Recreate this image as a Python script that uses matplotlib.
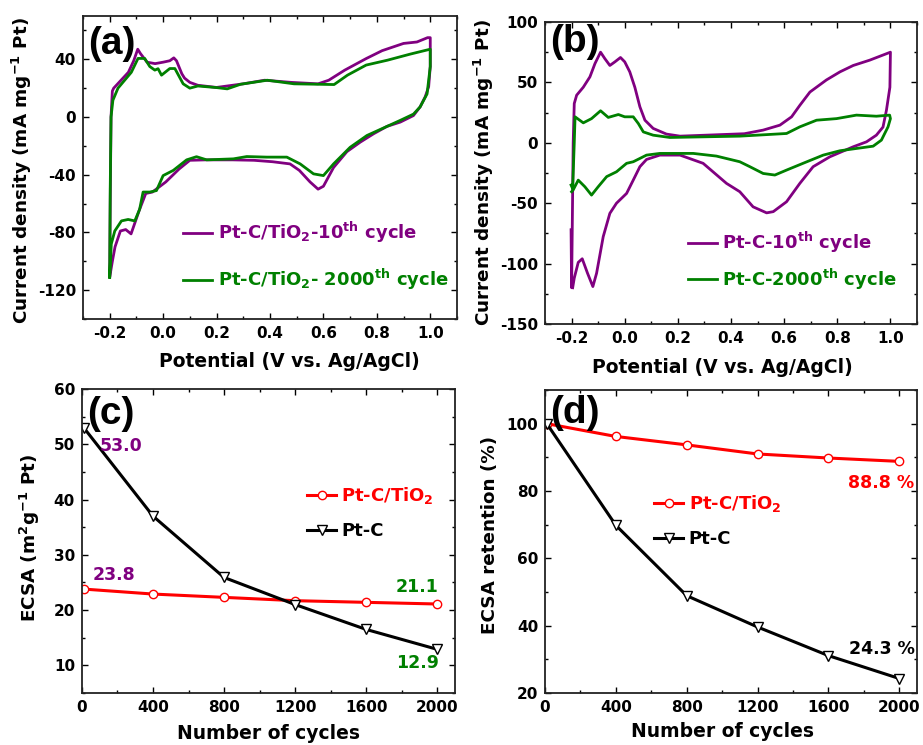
import matplotlib
matplotlib.use("Agg")
import matplotlib.pyplot as plt
from matplotlib.ticker import MultipleLocator

plt.rcParams['font.family'] = ['DejaVu Sans']
plt.rcParams['font.weight'] = 'bold'
plt.rcParams['axes.labelweight'] = 'bold'
plt.rcParams['axes.unicode_minus'] = False
plt.rcParams['mathtext.fontset'] = 'custom'
plt.rcParams['mathtext.rm'] = 'DejaVu Sans:bold'
plt.rcParams['mathtext.it'] = 'DejaVu Sans:bold'
plt.rcParams['mathtext.bf'] = 'DejaVu Sans:bold'

PURPLE = '#800080'
GREEN = '#008000'

# ---- (a) Pt-C/TiO2 CV, 10th cycle (anodic then cathodic) ----
a10_v = [-0.200, -0.198, -0.195, -0.190, -0.185, -0.160, -0.130, -0.110, -0.095, -0.085,
         -0.060, -0.030, 0.000, 0.025, 0.040, 0.050, 0.070, 0.080, 0.100, 0.130,
         0.200, 0.300, 0.380, 0.480, 0.580, 0.620, 0.680, 0.760, 0.820, 0.900,
         0.950, 0.990, 1.000,
         1.000, 0.994, 0.981, 0.962, 0.937, 0.888, 0.838, 0.788, 0.738, 0.688,
         0.638, 0.600, 0.580, 0.550, 0.510, 0.475, 0.410, 0.340, 0.260, 0.160,
         0.100, 0.060, 0.010, -0.040, -0.065, -0.090, -0.120, -0.140, -0.160, -0.180,
         -0.190, -0.200]
a10_j = [-110, -60, 0, 18, 20, 25, 31, 39, 47, 44,
         38, 37, 38, 39, 41, 39, 30, 27, 24, 22,
         20.5, 23, 25.5, 24, 23, 25.5, 32.5, 40.5, 46, 51,
         52, 55, 55,
         35, 21, 14, 7, 1, -3.5, -6.5, -11.6, -17.4, -24,
         -35, -48, -50, -45, -37, -32.5, -31, -30, -29.7, -29.7,
         -30, -36, -45, -52, -53, -65, -81, -78, -79, -90,
         -100, -111]

# ---- (a) Pt-C/TiO2 CV, 2000th cycle ----
a2000_v = [-0.200, -0.198, -0.195, -0.188, -0.169, -0.144, -0.119, -0.094, -0.069, -0.050,
           -0.031, -0.019, -0.006, 0.025, 0.044, 0.075, 0.100, 0.130, 0.200, 0.240,
           0.290, 0.390, 0.490, 0.640, 0.690, 0.760, 0.840, 0.925, 1.000,
           1.000, 0.988, 0.962, 0.937, 0.888, 0.838, 0.763, 0.700, 0.638, 0.600,
           0.563, 0.513, 0.463, 0.388, 0.313, 0.263, 0.163, 0.125, 0.088, 0.038,
           0.000, -0.025, -0.050, -0.075, -0.088, -0.106, -0.131, -0.156, -0.181, -0.194,
           -0.200]
a2000_j = [-111, -50, 0, 11.6, 20, 25.5, 31, 40.6, 40.6, 35,
           32.5, 33.5, 29, 33.6, 33.6, 23, 20, 21.5, 20.4, 19.5,
           22.7, 25.5, 23, 22.5, 29, 36, 39.4, 43.6, 47,
           35, 16, 7, 2, -2.3, -6.5, -12.8, -21, -32.5, -40.6,
           -39.4, -32.5, -27.8, -27.8, -27.4, -29, -29.7, -27.5, -29.7, -37,
           -40.6, -51, -52, -52, -64, -72, -71, -72, -79, -88,
           -111]

# ---- (b) Pt-C CV, 10th cycle ----
b10_v = [-0.202, -0.200, -0.197, -0.194, -0.190, -0.181, -0.156, -0.131, -0.112, -0.091,
         -0.075, -0.056, -0.037, -0.016, 0.000, 0.019, 0.038, 0.057, 0.076, 0.107,
         0.157, 0.208, 0.330, 0.450, 0.521, 0.584, 0.628, 0.659, 0.697, 0.759,
         0.810, 0.860, 0.922, 1.000,
         0.998, 0.985, 0.972, 0.947, 0.910, 0.860, 0.772, 0.709, 0.659, 0.609,
         0.559, 0.534, 0.483, 0.433, 0.383, 0.295, 0.208, 0.132, 0.082, 0.057,
         0.032, 0.007, -0.031, -0.056, -0.081, -0.106, -0.120, -0.140, -0.160, -0.175,
         -0.190, -0.196]
b10_j = [-72, -120, -60, 0, 32.5, 39.4, 46, 54.6, 65.6, 75,
         69.7, 64, 67, 70.6, 67, 58.7, 46, 29.8, 18.7, 11.9,
         7.2, 5.5, 6.5, 7.5, 10.5, 14.6, 21.5, 31, 42, 52,
         58.7, 64, 68.4, 75,
         46, 27, 13, 6.3, 0.8, -3.3, -11.6, -19.8, -33.6, -48.8,
         -57, -58, -53, -40.5, -33.6, -17, -10.2, -10.2, -13.8, -19.8,
         -30.9, -41.9, -50, -58.4, -77.7, -108, -119, -108, -96, -99,
         -112, -120]

# ---- (b) Pt-C CV, 2000th cycle ----
b2000_v = [-0.202, -0.196, -0.190, -0.187, -0.156, -0.125, -0.091, -0.062, -0.024, 0.000,
           0.032, 0.051, 0.070, 0.107, 0.170, 0.433, 0.609, 0.659, 0.722, 0.797,
           0.872, 0.947, 0.997, 1.000,
           0.991, 0.966, 0.935, 0.872, 0.810, 0.747, 0.671, 0.609, 0.565, 0.521,
           0.471, 0.433, 0.345, 0.258, 0.132, 0.082, 0.032, 0.007, -0.031, -0.068,
           -0.100, -0.125, -0.150, -0.175, -0.194, -0.200]
b2000_j = [-35, -38, 0, 21.5, 16.5, 20, 26.5, 21, 23.4, 21.5,
           21.5, 16, 9, 6.3, 4.4, 5.5, 7.7, 13.2, 18.7, 20,
           22.9, 22, 22.9, 20,
           13.2, 2.2, -2.8, -4.7, -6.6, -10.2, -17, -22.6, -26.7, -25.4,
           -19.8, -15.7, -11, -8.8, -8.8, -10.2, -15.7, -17, -24, -28,
           -36.4, -43.3, -36.4, -30.9, -39, -40.5]

# ---- (c), (d) ECSA vs cycles ----
cycles = [10, 400, 800, 1200, 1600, 2000]
ecsa_tio2 = [23.8, 22.9, 22.3, 21.7, 21.4, 21.1]
ecsa_ptc = [53.0, 37.0, 25.9, 21.0, 16.5, 12.9]
ret_tio2 = [100, 96.2, 93.7, 91.0, 89.8, 88.8]
ret_ptc = [100, 69.8, 48.9, 39.6, 31.1, 24.3]

TICK_FS = 11
XLAB_FS = 13.5
YLAB_FS = 13.2
LEG_FS = 13
NOTE_FS = 12.5
PANEL_FS = 28
PANEL_FONT = 'Liberation Sans'


def style_axis(ax, xmaj, xmin, ymaj, ymin):
    ax.xaxis.set_major_locator(MultipleLocator(xmaj))
    ax.xaxis.set_minor_locator(MultipleLocator(xmin))
    ax.yaxis.set_major_locator(MultipleLocator(ymaj))
    ax.yaxis.set_minor_locator(MultipleLocator(ymin))
    ax.tick_params(which='both', direction='in', top=True, right=True,
                   labelsize=TICK_FS, width=1.0)
    ax.tick_params(which='major', length=4, pad=5)
    ax.tick_params(which='minor', length=2.5)
    for sp in ax.spines.values():
        sp.set_linewidth(1.3)
        sp.set_color('#222222')


def panel_label(ax, s, y):
    ax.text(0.015, y, s, transform=ax.transAxes, fontsize=PANEL_FS,
            family=PANEL_FONT, va='top', ha='left')


fig = plt.figure(figsize=(9.23, 7.45), dpi=100)
ax_a = fig.add_axes([0.0899, 0.5718, 0.4052, 0.4067])
ax_b = fig.add_axes([0.5905, 0.5651, 0.4030, 0.4054])
ax_c = fig.add_axes([0.0888, 0.0698, 0.4041, 0.4081])
ax_d = fig.add_axes([0.5905, 0.0698, 0.4030, 0.4067])

# (a)
ax_a.plot(a10_v, a10_j, color=PURPLE, lw=2.0, label='Pt-C/TiO$_2$-10$^{th}$ cycle')
ax_a.plot(a2000_v, a2000_j, color=GREEN, lw=2.0, label='Pt-C/TiO$_2$- 2000$^{th}$ cycle')
ax_a.set_xlim(-0.3, 1.1)
ax_a.set_ylim(-140, 70)
style_axis(ax_a, 0.2, 0.1, 40, 20)
ax_a.xaxis.set_major_formatter(plt.FuncFormatter(lambda v, p: f'{v:.1f}'))
ax_a.set_xlabel('Potential (V vs. Ag/AgCl)', fontsize=XLAB_FS)
ax_a.set_ylabel('Current density (mA mg$^{-1}$ Pt)', fontsize=YLAB_FS)
ax_a.xaxis.set_label_coords(0.553, -0.109)
ax_a.yaxis.set_label_coords(-0.131, 0.49)
ax_a.legend(loc='lower left', bbox_to_anchor=(0.225, 0.035), frameon=False,
            fontsize=LEG_FS, handlelength=1.6, handletextpad=0.3, labelspacing=1.2,
            labelcolor='linecolor')
panel_label(ax_a, '(a)', 0.968)

# (b)
ax_b.plot(b10_v, b10_j, color=PURPLE, lw=2.0, label='Pt-C-10$^{th}$ cycle')
ax_b.plot(b2000_v, b2000_j, color=GREEN, lw=2.0, label='Pt-C-2000$^{th}$ cycle')
ax_b.set_xlim(-0.3, 1.1)
ax_b.set_ylim(-150, 100)
style_axis(ax_b, 0.2, 0.1, 50, 25)
ax_b.xaxis.set_major_formatter(plt.FuncFormatter(lambda v, p: f'{v:.1f}'))
ax_b.set_xlabel('Potential (V vs. Ag/AgCl)', fontsize=XLAB_FS)
ax_b.set_ylabel('Current density (mA mg$^{-1}$ Pt)', fontsize=YLAB_FS)
ax_b.xaxis.set_label_coords(0.476, -0.113)
ax_b.yaxis.set_label_coords(-0.132, 0.5)
ax_b.legend(loc='lower left', bbox_to_anchor=(0.34, 0.053), frameon=False,
            fontsize=LEG_FS, handlelength=1.6, handletextpad=0.3, labelspacing=0.62,
            labelcolor='linecolor')
panel_label(ax_b, '(b)', 0.992)

# (c)
ax_c.plot(cycles, ecsa_tio2, color='red', lw=2.2, marker='o', ms=6,
          mfc='white', mec='red', mew=1.0, label='Pt-C/TiO$_2$')
ax_c.plot(cycles, ecsa_ptc, color='black', lw=2.2, marker='v', ms=6.5,
          mfc='white', mec='black', mew=1.0, label='Pt-C')
ax_c.set_xlim(0, 2100)
ax_c.set_ylim(5, 60)
style_axis(ax_c, 400, 200, 10, 5)
ax_c.set_xlabel('Number of cycles', fontsize=XLAB_FS)
ax_c.set_ylabel('ECSA (m$^2$g$^{-1}$ Pt)', fontsize=YLAB_FS)
ax_c.xaxis.set_label_coords(0.5, -0.102)
ax_c.yaxis.set_label_coords(-0.107, 0.51)
leg = ax_c.legend(loc='lower left', bbox_to_anchor=(0.56, 0.45), frameon=False,
                  fontsize=LEG_FS, handlelength=1.6, handletextpad=0.3, labelspacing=0.88)
leg.get_texts()[0].set_color('red')
panel_label(ax_c, '(c)', 0.978)
ax_c.text(100, ecsa_ptc[0] - 3.4, f'{ecsa_ptc[0]:.1f}', color=PURPLE, fontsize=NOTE_FS,
          va='center', ha='left')
ax_c.text(60, ecsa_tio2[0] + 2.6, f'{ecsa_tio2[0]:.1f}', color=PURPLE, fontsize=NOTE_FS,
          va='center', ha='left')
ax_c.text(2010, ecsa_tio2[-1] + 3.1, f'{ecsa_tio2[-1]:.1f}', color=GREEN, fontsize=NOTE_FS,
          va='center', ha='right')
ax_c.text(2010, ecsa_ptc[-1] - 2.4, f'{ecsa_ptc[-1]:.1f}', color=GREEN, fontsize=NOTE_FS,
          va='center', ha='right')

# (d)
ax_d.plot(cycles, ret_tio2, color='red', lw=2.2, marker='o', ms=6,
          mfc='white', mec='red', mew=1.0, label='Pt-C/TiO$_2$')
ax_d.plot(cycles, ret_ptc, color='black', lw=2.2, marker='v', ms=6.5,
          mfc='white', mec='black', mew=1.0, label='Pt-C')
ax_d.set_xlim(0, 2100)
ax_d.set_ylim(20, 110)
style_axis(ax_d, 400, 200, 20, 10)
ax_d.set_xlabel('Number of cycles', fontsize=XLAB_FS)
ax_d.set_ylabel('ECSA retention (%)', fontsize=YLAB_FS)
ax_d.xaxis.set_label_coords(0.478, -0.096)
ax_d.yaxis.set_label_coords(-0.124, 0.523)
leg = ax_d.legend(loc='lower left', bbox_to_anchor=(0.25, 0.425), frameon=False,
                  fontsize=LEG_FS, handlelength=1.6, handletextpad=0.3, labelspacing=0.88)
leg.get_texts()[0].set_color('red')
panel_label(ax_d, '(d)', 0.985)
ax_d.text(2085, ret_tio2[-1] - 6.5, f'{ret_tio2[-1]:.1f} %', color='red', fontsize=NOTE_FS,
          va='center', ha='right')
ax_d.text(2090, ret_ptc[-1] + 8.7, f'{ret_ptc[-1]:.1f} %', color='black', fontsize=NOTE_FS,
          va='center', ha='right')

fig.savefig('out.png', dpi=100)
